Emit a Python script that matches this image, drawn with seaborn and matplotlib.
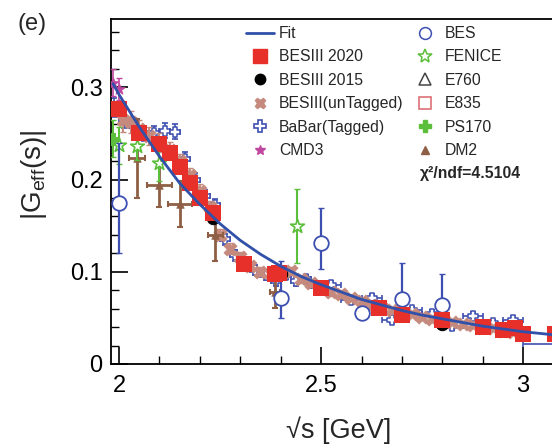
import numpy as np
import pandas as pd
import matplotlib
matplotlib.use("Agg")
import matplotlib.pyplot as plt
from matplotlib.lines import Line2D
from matplotlib.ticker import MultipleLocator
import seaborn as sns

# ---------------- data ----------------
fit_x = [1.985, 2.0, 2.05, 2.1, 2.15, 2.2, 2.25, 2.3, 2.35, 2.4, 2.45, 2.5, 2.55,
         2.6, 2.65, 2.7, 2.75, 2.8, 2.85, 2.9, 2.95, 3.0, 3.09]
fit_y = [0.304, 0.292, 0.257, 0.225, 0.196, 0.173, 0.152, 0.134, 0.119, 0.106, 0.095,
         0.086, 0.078, 0.070, 0.064, 0.058, 0.053, 0.049, 0.045, 0.041, 0.038, 0.035, 0.031]

b20_x = [2.0, 2.05, 2.1, 2.125, 2.15, 2.175, 2.2, 2.2324, 2.309, 2.3864, 2.396, 2.5,
         2.6444, 2.7, 2.8, 2.9, 2.95, 2.981, 3.0, 3.08]
b20_y = [0.276, 0.250, 0.239, 0.229, 0.214, 0.196, 0.180, 0.164, 0.108, 0.098, 0.099,
         0.082, 0.061, 0.053, 0.048, 0.040, 0.037, 0.039, 0.032, 0.033]
b20_e = [0.008, 0.006, 0.006, 0.006, 0.006, 0.005, 0.005, 0.005, 0.004, 0.004, 0.004,
         0.004, 0.003, 0.003, 0.003, 0.003, 0.003, 0.003, 0.002, 0.002]

b15_x = [2.2324, 2.4, 2.8, 3.08]
b15_y = [0.158, 0.098, 0.043, 0.033]
b15_e = [0.006, 0.004, 0.003, 0.002]

unt_x = [2.01, 2.03, 2.05, 2.075, 2.10, 2.125, 2.15, 2.175, 2.20, 2.225, 2.25, 2.275,
         2.30, 2.325, 2.35, 2.375, 2.40, 2.425, 2.45, 2.475, 2.50, 2.525, 2.55, 2.575,
         2.60, 2.625, 2.65, 2.675, 2.70, 2.725, 2.75, 2.775, 2.80, 2.825, 2.85, 2.875,
         2.90, 2.925, 2.95, 2.975, 3.00]
unt_y = [0.264, 0.262, 0.255, 0.247, 0.240, 0.232, 0.220, 0.205, 0.188, 0.170, 0.140,
         0.125, 0.116, 0.106, 0.100, 0.098, 0.098, 0.101, 0.092, 0.088, 0.083, 0.078,
         0.076, 0.072, 0.068, 0.064, 0.061, 0.058, 0.055, 0.054, 0.051, 0.049, 0.046,
         0.046, 0.043, 0.042, 0.040, 0.039, 0.036, 0.035, 0.033]
unt_e = [0.012, 0.012, 0.010, 0.010, 0.010, 0.009, 0.008, 0.008, 0.007, 0.007, 0.006,
         0.006, 0.005, 0.005, 0.005, 0.005, 0.005, 0.004, 0.004, 0.004, 0.004, 0.004,
         0.004, 0.003, 0.003, 0.003, 0.003, 0.003, 0.003, 0.003, 0.003, 0.003, 0.003,
         0.003, 0.003, 0.003, 0.003, 0.003, 0.003, 0.003, 0.003]

bab_x = [1.9875, 2.0125, 2.0375, 2.0625, 2.0875, 2.1125, 2.1375, 2.1625, 2.1875, 2.2125,
         2.2375, 2.2625, 2.2875, 2.3125, 2.3375, 2.3625, 2.3875, 2.4125, 2.4375, 2.4625,
         2.4875, 2.525, 2.575, 2.625, 2.675, 2.725, 2.775, 2.825, 2.875, 2.925, 2.975, 3.1]
bab_y = [0.278, 0.265, 0.258, 0.250, 0.250, 0.253, 0.252, 0.222, 0.200, 0.182,
         0.172, 0.135, 0.118, 0.110, 0.102, 0.096, 0.090, 0.097, 0.090, 0.092,
         0.085, 0.086, 0.069, 0.072, 0.048, 0.058, 0.054, 0.041, 0.052, 0.044, 0.048, 0.022]
bab_xe = [0.0125] * 21 + [0.025] * 10 + [0.1]
bab_ye = [0.010, 0.009, 0.009, 0.008, 0.008, 0.008, 0.008, 0.008, 0.007, 0.007,
          0.007, 0.006, 0.006, 0.006, 0.005, 0.005, 0.005, 0.005, 0.005, 0.005,
          0.005, 0.004, 0.004, 0.004, 0.004, 0.004, 0.004, 0.004, 0.004, 0.004, 0.004, 0.003]

cmd_x = [1.984, 2.0]
cmd_y = [0.305, 0.298]
cmd_e = [0.015, 0.012]

bes_x = [2.0, 2.4, 2.5, 2.6, 2.7, 2.8]
bes_y = [0.175, 0.072, 0.131, 0.055, 0.070, 0.064]
bes_lo = [0.055, 0.022, 0.028, 0.006, 0.020, 0.018]
bes_hi = [0.065, 0.040, 0.038, 0.006, 0.040, 0.034]

fen_x = [2.0, 2.045, 2.10, 2.44]
fen_y = [0.237, 0.236, 0.218, 0.150]
fen_e = [0.020, 0.015, 0.020, 0.040]

ps_x = [1.985]
ps_y = [0.244]
ps_e = [0.020]

dm2_x = [2.045, 2.10, 2.15, 2.238, 2.386]
dm2_y = [0.223, 0.194, 0.173, 0.140, 0.078]
dm2_xe = [0.020, 0.030, 0.030, 0.018, 0.012]
dm2_ye = [0.043, 0.024, 0.025, 0.028, 0.017]

e760_x, e760_y = [], []
e835_x, e835_y = [], []

legend_labels = ["Fit", "BESIII 2020", "BESIII 2015", "BESIII(unTagged)", "BaBar(Tagged)",
                 "CMD3", "BES", "FENICE", "E760", "E835", "PS170", "DM2"]

# ---------------- styles ----------------
C_FIT = "#3050aa"
C_RED = "#e8302a"
C_UNT = "#c58a7d"
C_BLUE = "#3d4fb0"
C_MAG = "#c0479f"
C_GRN = "#5cbf3c"
C_DM2 = "#8e5f45"
C_E835 = "#d9666a"

sns.set_theme(style="ticks")
plt.rcParams["font.family"] = ["Liberation Sans", "DejaVu Sans"]
plt.rcParams["mathtext.fontset"] = "custom"
plt.rcParams["mathtext.rm"] = "Liberation Sans"
plt.rcParams["mathtext.it"] = "Liberation Sans:italic"
plt.rcParams["mathtext.bf"] = "Liberation Sans:bold"

fig = plt.figure(figsize=(5.52, 4.47), dpi=100)
ax = fig.add_axes([111 / 552, 83 / 447, 0.81, 345 / 447])

def df(x, y):
    return pd.DataFrame({"x": x, "y": y})

# BaBar tagged
ax.errorbar(bab_x, bab_y, xerr=bab_xe, yerr=bab_ye, fmt="none", ecolor=C_BLUE,
            elinewidth=1.2, capsize=2, capthick=1.2, zorder=2)
sns.scatterplot(data=df(bab_x, bab_y), x="x", y="y", ax=ax, marker="P", s=55,
                facecolor="white", edgecolor=C_BLUE, linewidth=1.1, zorder=3)
# BESIII untagged
ax.errorbar(unt_x, unt_y, yerr=unt_e, fmt="none", ecolor=C_UNT, elinewidth=1.5,
            capsize=2, zorder=4)
sns.scatterplot(data=df(unt_x, unt_y), x="x", y="y", ax=ax, marker="X", s=90,
                color=C_UNT, edgecolor=C_UNT, linewidth=0.5, zorder=4)
# DM2
ax.errorbar(dm2_x, dm2_y, xerr=dm2_xe, yerr=dm2_ye, fmt="none", ecolor=C_DM2,
            elinewidth=2, capsize=2.5, capthick=1.5, zorder=4)
sns.scatterplot(data=df(dm2_x, dm2_y), x="x", y="y", ax=ax, marker="^", s=30,
                color=C_DM2, edgecolor=C_DM2, zorder=4)
# CMD3
ax.errorbar(cmd_x, cmd_y, yerr=cmd_e, fmt="none", ecolor=C_MAG, elinewidth=1.2,
            capsize=2.5, zorder=4)
sns.scatterplot(data=df(cmd_x, cmd_y), x="x", y="y", ax=ax, marker="*", s=70,
                color=C_MAG, edgecolor=C_MAG, zorder=4)
# FENICE
ax.errorbar(fen_x, fen_y, yerr=fen_e, fmt="none", ecolor=C_GRN, elinewidth=1.5,
            capsize=2.5, zorder=4)
sns.scatterplot(data=df(fen_x, fen_y), x="x", y="y", ax=ax, marker="*", s=110,
                facecolor="white", edgecolor=C_GRN, linewidth=1.2, zorder=4)
# PS170
ax.errorbar(ps_x, ps_y, yerr=ps_e, fmt="none", ecolor=C_GRN, elinewidth=1.5,
            capsize=2.5, zorder=4)
sns.scatterplot(data=df(ps_x, ps_y), x="x", y="y", ax=ax, marker="P", s=80,
                color=C_GRN, edgecolor=C_GRN, zorder=4)
# BES
ax.errorbar(bes_x, bes_y, yerr=[bes_lo, bes_hi], fmt="none", ecolor=C_BLUE,
            elinewidth=1.6, capsize=2.5, zorder=5)
sns.scatterplot(data=df(bes_x, bes_y), x="x", y="y", ax=ax, marker="o", s=110,
                facecolor="white", edgecolor=C_BLUE, linewidth=1.3, zorder=5)
# BESIII 2015
ax.errorbar(b15_x, b15_y, yerr=b15_e, fmt="none", ecolor="black", elinewidth=1.2, zorder=5)
sns.scatterplot(data=df(b15_x, b15_y), x="x", y="y", ax=ax, marker="o", s=80,
                color="black", edgecolor="black", zorder=5)
# BESIII 2020
ax.errorbar(b20_x, b20_y, yerr=b20_e, fmt="none", ecolor=C_RED, elinewidth=1.2, zorder=6)
sns.scatterplot(data=df(b20_x, b20_y), x="x", y="y", ax=ax, marker="s", s=120,
                color=C_RED, edgecolor=C_RED, linewidth=0, zorder=6)
# E760 / E835 (no points in the visible range)
sns.scatterplot(data=df(e760_x, e760_y), x="x", y="y", ax=ax, marker="^", s=60)
sns.scatterplot(data=df(e835_x, e835_y), x="x", y="y", ax=ax, marker="s", s=60)
# Fit
sns.lineplot(data=df(fit_x, fit_y), x="x", y="y", ax=ax, color=C_FIT, linewidth=2,
             zorder=7, sort=True)

ax.set_xlim(1.980, 3.0866)
ax.set_ylim(0, 0.374)
ax.xaxis.set_major_locator(MultipleLocator(0.5))
ax.xaxis.set_minor_locator(MultipleLocator(0.1))
ax.yaxis.set_major_locator(MultipleLocator(0.1))
ax.yaxis.set_minor_locator(MultipleLocator(0.02))
ax.set_xticks([2, 2.5, 3])
ax.set_xticklabels(["2", "2.5", "3"])
ax.set_yticks([0, 0.1, 0.2, 0.3])
ax.set_yticklabels(["0", "0.1", "0.2", "0.3"])
ax.tick_params(which="both", direction="in", colors="black", labelsize=17)
ax.tick_params(which="major", length=12, width=1.2)
ax.tick_params(which="minor", length=6, width=1.0)
ax.tick_params(axis="x", pad=8)
ax.tick_params(axis="y", pad=6)
for sp in ax.spines.values():
    sp.set_color("black")
    sp.set_linewidth(1.3)
ax.set_xlabel("√s [GeV]", fontsize=19.5, va="center")
ax.xaxis.set_label_coords(225 / 441, -66 / 345)
ax.set_ylabel(r"|G$_{\mathrm{eff}}$(s)|", fontsize=20, va="center")
ax.yaxis.set_label_coords(-76 / 441, 0.55)
fig.text(32 / 552, 1 - 24 / 447, "(e)", fontsize=17, ha="center", va="center")

handles = [
    Line2D([], [], color=C_FIT, lw=2),
    Line2D([], [], ls="none", marker="s", ms=10, color=C_RED, mec=C_RED),
    Line2D([], [], ls="none", marker="o", ms=7.5, color="black"),
    Line2D([], [], ls="none", marker="X", ms=7.5, color=C_UNT, mec=C_UNT),
    Line2D([], [], ls="none", marker="P", ms=9, mfc="white", mec=C_BLUE, mew=1.2),
    Line2D([], [], ls="none", marker="*", ms=7, color=C_MAG, mec=C_MAG),
    Line2D([], [], ls="none", marker="o", ms=8.5, mfc="white", mec=C_BLUE, mew=1.1),
    Line2D([], [], ls="none", marker="*", ms=10, mfc="white", mec=C_GRN, mew=1.1),
    Line2D([], [], ls="none", marker="^", ms=8.5, mfc="white", mec="#444444", mew=1.1),
    Line2D([], [], ls="none", marker="s", ms=8.5, mfc="white", mec=C_E835, mew=1.1),
    Line2D([], [], ls="none", marker="P", ms=9, color=C_GRN, mec=C_GRN),
    Line2D([], [], ls="none", marker="^", ms=5.5, color=C_DM2, mec=C_DM2),
]
leg = ax.legend(handles, legend_labels, ncol=2, loc="upper left",
                bbox_to_anchor=(246 / 552, 1 - 26 / 447), bbox_transform=fig.transFigure,
                frameon=False, fontsize=11.3, handlelength=1.8, handletextpad=0.3,
                columnspacing=0.5, labelspacing=0.54, borderpad=0, borderaxespad=0)
fig.text(420 / 552, 1 - 173 / 447, "χ²/ndf=4.5104", fontsize=11.3,
         fontweight="bold", ha="left", va="center")

fig.savefig("out.png", dpi=100)
